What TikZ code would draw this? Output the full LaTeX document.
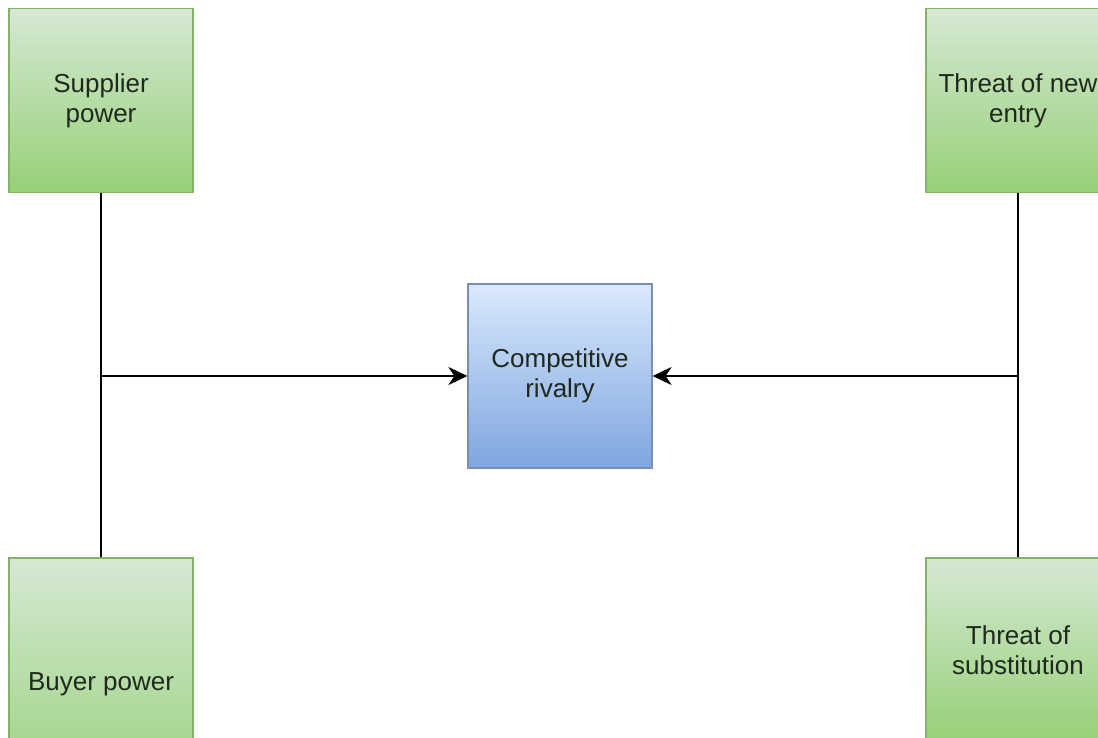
\documentclass[tikz,border=0pt]{standalone}
\usepackage{fontspec}
\setmainfont{Liberation Sans}
\usetikzlibrary{arrows.meta}
\definecolor{greentop}{HTML}{D5E8D4}
\definecolor{greenbot}{HTML}{97D077}
\definecolor{greenline}{HTML}{82B366}
\definecolor{bluetop}{HTML}{DAE8FC}
\definecolor{bluebot}{HTML}{7EA6E0}
\definecolor{blueline}{HTML}{7A8FAF}
\definecolor{textdark}{HTML}{1E2A1E}
\tikzset{
  force/.style={draw=greenline, line width=1.2pt, top color=greentop, bottom color=greenbot,
    minimum width=184pt, minimum height=184pt, inner sep=0pt, align=center,
    text=textdark, font=\fontsize{26}{30}\selectfont},
  rivalbox/.style={draw=blueline, line width=1.2pt, top color=bluetop, bottom color=bluebot,
    minimum width=184pt, minimum height=184pt, inner sep=0pt, align=center,
    text=textdark, font=\fontsize{26}{30}\selectfont},
  link/.style={line width=1.8pt, black},
  pointer/.style={link, -{Stealth[length=19pt,width=18pt,inset=6pt]}}
}
\begin{document}
\begin{tikzpicture}[x=1pt,y=-1pt]
  \useasboundingbox (0,0) rectangle (1098,737);
  \fill[white] (0,0) rectangle (1098,737);
  \clip (0,0) rectangle (1098,737);

  % the five forces
  \node[force] (supplier) at (101,100.5) {Supplier\\power};
  \node[force, minimum height=252pt] (buyer) at (101,684) {Buyer power};
  \node[force] (entry) at (1018,100.5) {Threat of new\\entry};
  \node[force] (subst) at (1018,650) {Threat of\\substitution};
  \node[rivalbox] (rival) at (560,376) {Competitive\\rivalry};

  % junctions on the vertical links
  \coordinate (jl) at (supplier.south |- rival.west);
  \coordinate (jr) at (entry.south |- rival.east);

  % connectors
  \draw[link] (supplier.south) -- (buyer.north);
  \draw[link] (entry.south) -- (subst.north);
  \draw[pointer] (jl) -- (rival.west);
  \draw[pointer] (jr) -- (rival.east);
\end{tikzpicture}
\end{document}
